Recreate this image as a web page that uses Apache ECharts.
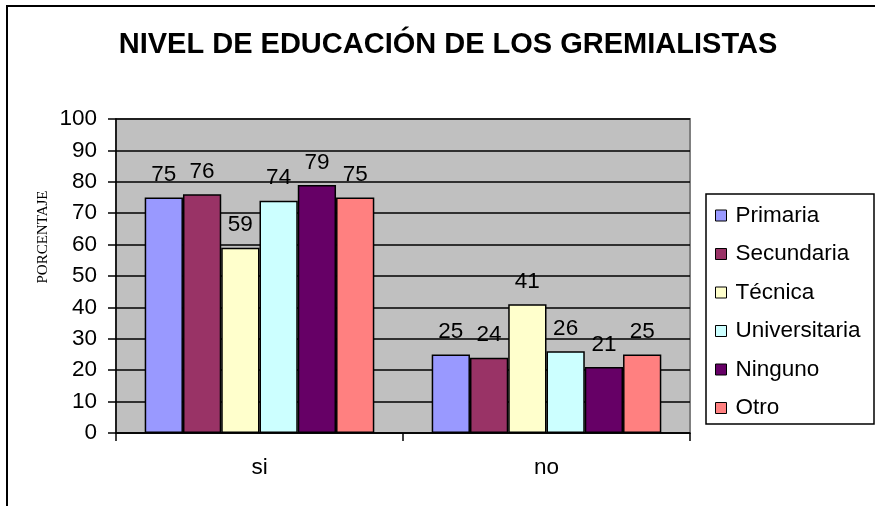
<!DOCTYPE html>
<html>
<head>
<meta charset="utf-8">
<script src="https://cdn.jsdelivr.net/npm/echarts@6/dist/echarts.min.js"></script>
<style>
  html, body { margin: 0; padding: 0; background: #fff; }
  #chart { width: 875px; height: 506px; }
</style>
</head>
<body>
<div id="chart"></div>
<script>
// datos
const categories = ['si', 'no'];
const seriesNames = ['Primaria', 'Secundaria', 'Técnica', 'Universitaria', 'Ninguno', 'Otro'];
const primaria = [75, 25];
const secundaria = [76, 24];
const tecnica = [59, 41];
const universitaria = [74, 26];
const ninguno = [79, 21];
const otro = [75, 25];
const yTicks = [0, 10, 20, 30, 40, 50, 60, 70, 80, 90, 100];

const values = [primaria, secundaria, tecnica, universitaria, ninguno, otro];
const colors = ['#9999FF', '#993366', '#FFFFCC', '#CCFFFF', '#660066', '#FF8080'];
const font = '"Liberation Sans", Arial, sans-serif';
const fs = 22.5;

const chart = echarts.init(document.getElementById('chart'));

chart.setOption({
  animation: false,
  backgroundColor: '#ffffff',
  graphic: [
    {
      type: 'rect',
      shape: { x: 7, y: 6, width: 1000, height: 700 },
      style: { fill: 'none', stroke: '#000', lineWidth: 2 },
      silent: true
    },
    {
      type: 'text',
      x: 448,
      y: 45,
      style: {
        text: 'NIVEL DE EDUCACIÓN DE LOS GREMIALISTAS',
        font: 'bold 29px ' + font,
        fill: '#000',
        textAlign: 'center',
        textVerticalAlign: 'middle'
      }
    },
    {
      type: 'text',
      x: 43,
      y: 237,
      rotation: Math.PI / 2,
      style: {
        text: 'PORCENTAJE',
        font: '15px "Liberation Serif", "Times New Roman", serif',
        fill: '#000',
        textAlign: 'center',
        textVerticalAlign: 'middle'
      }
    },
    {
      type: 'rect',
      shape: { x: 706, y: 194, width: 168, height: 230 },
      style: { fill: '#fff', stroke: '#000', lineWidth: 1.5 },
      z: -1
    }
  ],
  legend: {
    orient: 'vertical',
    left: 706,
    top: 194,
    padding: [10, 4, 10, 9],
    itemGap: 15.5,
    itemWidth: 11,
    itemHeight: 11,
    icon: 'rect',
    itemStyle: { borderColor: '#000', borderWidth: 1 },
    textStyle: { fontFamily: font, fontSize: fs, lineHeight: 22, color: '#000', padding: [0, 0, 0, 4] },
    data: seriesNames
  },
  grid: {
    left: 116,
    top: 119,
    width: 574,
    height: 314,
    show: true,
    backgroundColor: '#C0C0C0',
    borderColor: '#808080',
    borderWidth: 2
  },
  xAxis: {
    type: 'category',
    data: categories,
    axisLine: { lineStyle: { color: '#000', width: 1.5 } },
    axisTick: { show: true, length: 8, lineStyle: { color: '#000', width: 1.5 } },
    axisLabel: { fontFamily: font, fontSize: fs, color: '#000', margin: 23 }
  },
  yAxis: {
    type: 'value',
    min: yTicks[0],
    max: yTicks[yTicks.length - 1],
    interval: 10,
    axisLine: { show: true, lineStyle: { color: '#000', width: 1.5 } },
    axisTick: { show: true, length: 8, lineStyle: { color: '#000', width: 1.5 } },
    axisLabel: { fontFamily: font, fontSize: fs, color: '#000', margin: 19 },
    splitLine: { show: true, lineStyle: { color: '#000', width: 1.5 } }
  },
  series: seriesNames.map((name, i) => ({
    type: 'bar',
    name: name,
    data: values[i],
    barGap: '0%',
    barCategoryGap: '20%',
    itemStyle: { color: colors[i], borderColor: '#000', borderWidth: 1.5 },
    label: {
      show: true,
      position: 'top',
      distance: 11,
      fontFamily: font,
      fontSize: fs,
      color: '#000'
    }
  }))
});
</script>
</body>
</html>
